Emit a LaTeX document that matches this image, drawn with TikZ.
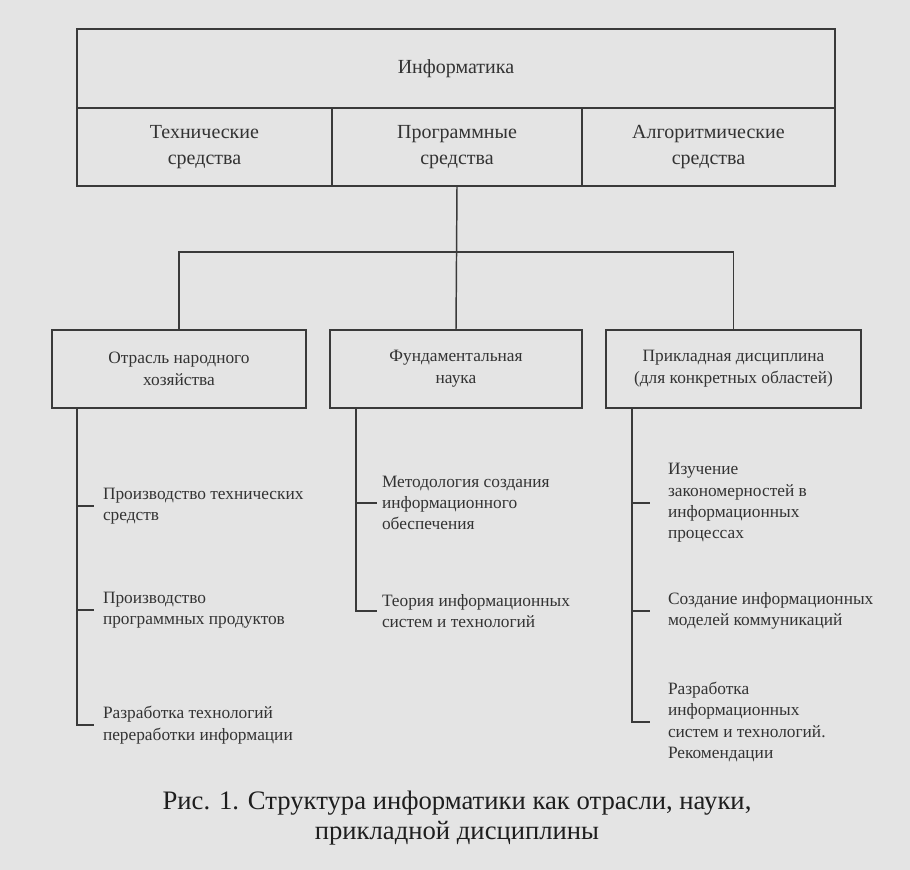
\documentclass[tikz,border=0pt]{standalone}
\usepackage{fontspec}
\setmainfont{Liberation Serif}
\newdimen\pxu \pxu=0.75pt
\definecolor{paper}{HTML}{E4E4E4}
\definecolor{linec}{HTML}{3A3A3A}
\definecolor{textc}{HTML}{333333}
\definecolor{capc}{HTML}{1E1E1E}
\newcommand{\topfnt}{\fontsize{15pt}{19.5pt}\selectfont}
\newcommand{\midfnt}{\fontsize{13pt}{16.5pt}\selectfont}
\newcommand{\itemfnt}{\fontsize{13pt}{16pt}\selectfont}
\newcommand{\capfnt}{\fontsize{20pt}{23pt}\selectfont}
\begin{document}
\begin{tikzpicture}[x=0.75pt,y=-0.75pt,
  frame/.style={draw=linec, line width=1.1pt, inner sep=0pt, outer sep=0pt, align=center, text=textc},
  topcell/.style={frame, font=\topfnt, minimum height=78\pxu},
  midcell/.style={frame, font=\midfnt, minimum height=78\pxu},
  itemtext/.style={anchor=west, align=left, inner sep=0pt, outer sep=0pt, font=\itemfnt, text=textc},
  conn/.style={draw=linec, line width=1.1pt},
  tickl/.style={conn, shorten >=9\pxu},
  tickm/.style={conn, shorten >=5\pxu},
  tickr/.style={conn, shorten >=18\pxu}]
\useasboundingbox[fill=paper] (0,0) rectangle (910,870);
% top block
\node[topcell, minimum width=758\pxu, minimum height=79\pxu] (info) at (456,68.5) {Информатика};
\node[topcell, minimum width=255\pxu] (tech) at (204.5,147) {Технические\\средства};
\node[topcell, minimum width=250\pxu] (prog) at (457,147) {Программные\\средства};
\node[topcell, minimum width=253\pxu] (alg) at (708.5,147) {Алгоритмические\\средства};
% second row
\node[midcell, minimum width=254\pxu] (otr) at (179,369) {Отрасль народного\\хозяйства};
\node[midcell, minimum width=252\pxu] (fund) at (456,369) {Фундаментальная\\наука};
\node[midcell, minimum width=255\pxu] (prik) at (733.5,369) {Прикладная дисциплина\\(для конкретных областей)};
% tree connectors
\coordinate (bar) at (456,252);
\draw[conn] (prog.south) -- (fund.north);
\draw[conn] (otr.north) |- (bar) -| (prik.north);
% items
\node[itemtext] (t11) at (103,506) {Производство технических\\средств};
\node[itemtext] (t12) at (103,610) {Производство\\программных продуктов};
\node[itemtext] (t13) at (103,725) {Разработка технологий\\переработки информации};
\node[itemtext] (t21) at (382,503) {Методология создания\\информационного\\обеспечения};
\node[itemtext] (t22) at (382,611) {Теория информационных\\систем и технологий};
\node[itemtext] (t31) at (668,503) {Изучение\\закономерностей в\\информационных\\процессах};
\node[itemtext] (t32) at (668,611) {Создание информационных\\моделей коммуникаций};
\node[itemtext] (t33) at (668,722) {Разработка\\информационных\\систем и технологий.\\Рекомендации};
% brackets
\coordinate (v1) at ([xshift=25\pxu]otr.south west);
\coordinate (v2) at ([xshift=26\pxu]fund.south west);
\coordinate (v3) at ([xshift=26\pxu]prik.south west);
\draw[tickl] (v1) |- (t13.west);
\draw[tickl] (t11.west -| v1) -- (t11.west);
\draw[tickl] (t12.west -| v1) -- (t12.west);
\draw[tickm] (v2) |- (t22.west);
\draw[tickm] (t21.west -| v2) -- (t21.west);
\draw[tickr] (v3) |- (t33.west);
\draw[tickr] (t31.west -| v3) -- (t31.west);
\draw[tickr] (t32.west -| v3) -- (t32.west);
% caption
\node[font=\capfnt, align=center, text=capc, inner sep=0pt] (cap) at (457,818) {Рис. 1. Структура информатики как отрасли, науки,\\прикладной дисциплины};
\end{tikzpicture}
\end{document}
